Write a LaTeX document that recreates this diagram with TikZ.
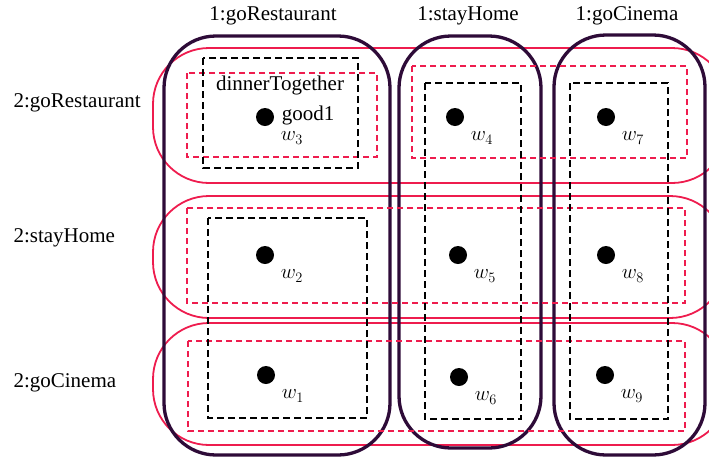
\documentclass[tikz,border=0pt]{standalone}
\usepackage{fontspec}
\setmainfont{Liberation Serif}
\usepackage{amsmath}
\usepackage{xcolor}
\definecolor{colblob}{HTML}{2E0B38}
\definecolor{rowblob}{HTML}{EE1C4E}
\tikzset{
	agentone/.style={draw=colblob, line width=3.3pt, rounded corners=52pt},
	agenttwo/.style={draw=rowblob, line width=1.8pt, rounded corners=56pt},
	infoone/.style={draw=black, line width=2.9pt, dash pattern=on 7pt off 4pt},
	infotwo/.style={draw=rowblob, line width=1.6pt, dash pattern=on 6pt off 4pt},
	world/.style={circle, fill=black, inner sep=0pt, minimum size=18pt}
}

\begin{document}
\begin{tikzpicture}[x=1pt, y=-1pt, every node/.style={font=\fontsize{21}{25}\selectfont}]
			\useasboundingbox (0,0) rectangle (709,456);

			% Draw the rows of player 2
			\draw[agenttwo] (153,48) rectangle (728,183);
			\draw[agenttwo] (153,196) rectangle (726,318);
			\draw[agenttwo] (153,323) rectangle (728,445);

			% Draw the columns of player 1
			\draw[agentone] (164,36) rectangle (390,455);
			\draw[agentone] (399,36) rectangle (541,448);
			\draw[agentone] (554,35) rectangle (705,455);

			% Information sets of player 2
			\draw[infotwo] (187,73) rectangle (377,157);
			\draw[infotwo] (412,66) rectangle (687,158);
			\draw[infotwo] (187,208) rectangle (685,303);
			\draw[infotwo] (188,341) rectangle (685,431);

			% Information sets of player 1
			\draw[infoone] (203,58) rectangle (358,168);
			\draw[infoone] (208,218) rectangle (367,418);
			\draw[infoone] (425,83) rectangle (521,419);
			\draw[infoone] (570,83) rectangle (668,419);

			% Label the actions
			\node (c1) at (273,16) {1:goRestaurant};
			\node (c2) at (468,16) {1:stayHome};
			\node (c3) at (627,16) {1:goCinema};
			\node[right] (r1) at (10,103) {2:goRestaurant};
			\node[right] (r2) at (10,238) {2:stayHome};
			\node[right] (r3) at (10,383) {2:goCinema};

			% Draw the worlds
			\node[world] (w3) at (265,117) {};
			\node[world] (w4) at (455,117) {};
			\node[world] (w7) at (606,117) {};
			\node[world] (w2) at (265,255) {};
			\node[world] (w5) at (458,255) {};
			\node[world] (w8) at (606,255) {};
			\node[world] (w1) at (266,375) {};
			\node[world] (w6) at (459,377) {};
			\node[world] (w9) at (605,375) {};

			% Label the worlds
			\node (l3) at ([shift={(27,21)}]w3.center) {$w_3$};
			\node (l4) at ([shift={(27,21)}]w4.center) {$w_4$};
			\node (l7) at ([shift={(27,21)}]w7.center) {$w_7$};
			\node (l2) at ([shift={(27,21)}]w2.center) {$w_2$};
			\node (l5) at ([shift={(27,21)}]w5.center) {$w_5$};
			\node (l8) at ([shift={(27,21)}]w8.center) {$w_8$};
			\node (l1) at ([shift={(27,21)}]w1.center) {$w_1$};
			\node (l6) at ([shift={(27,21)}]w6.center) {$w_6$};
			\node (l9) at ([shift={(27,21)}]w9.center) {$w_9$};

			% Label the propositions
			\node (dinner) at (280,85) {dinnerTogether};
			\node (good) at (308,115) {good1};
		\end{tikzpicture}
\end{document}
